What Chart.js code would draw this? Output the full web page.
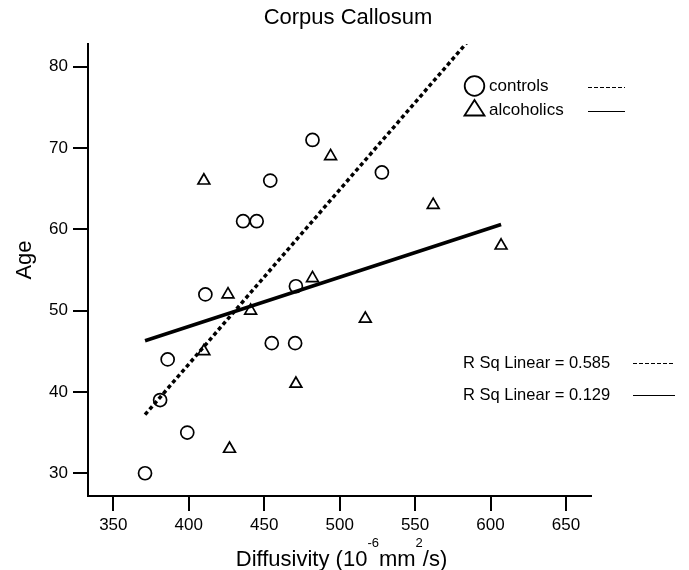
<!DOCTYPE html>
<html lang="en">
<head>
<meta charset="UTF-8">
<title>Corpus Callosum</title>
<script src="https://cdn.jsdelivr.net/npm/chart.js"></script>
<style>
    body { margin: 0; background: #fff; }
    #caixa { width: 689px; height: 570px; }
</style>
</head>
<body>
<div id="caixa"><canvas id="grafico"></canvas></div>

<script>
// controls (circles)
var controlsX = [371, 381, 386, 399, 411, 436, 445, 454, 455, 470.5, 471, 482, 528];
var controlsY = [30, 39, 44, 35, 52, 61, 61, 66, 46, 46, 53, 71, 67];

// alcoholics (triangles)
var alcoholicsX = [410, 494, 426, 441, 410, 427, 471, 482, 517, 562, 607];
var alcoholicsY = [66, 69, 52, 50, 45, 33, 41, 54, 49, 63, 58];

// fit lines (controls line runs out of the top of the plot)
var fitControlsX = [371, 584];
var fitControlsY = [37.2, 82.9];
var fitAlcoholicsX = [371, 607];
var fitAlcoholicsY = [46.3, 60.6];

var xTicks = [350, 400, 450, 500, 550, 600, 650];
var yTicks = [30, 40, 50, 60, 70, 80];
var rSquared = ['0.585', '0.129'];

var fonte = '"Liberation Sans", Arial, Helvetica, sans-serif';
Chart.defaults.font.family = fonte;
Chart.defaults.color = '#000';

function pares(xs, ys) {
    return xs.map(function (x, i) { return { x: x, y: ys[i] }; });
}

// title, axis titles and legends, drawn straight on the canvas
var legendaSpss = {
    id: 'legendaSpss',
    afterDraw: function (chart) {
        var ctx = chart.ctx;
        var area = chart.chartArea;
        ctx.save();
        ctx.strokeStyle = '#000';
        ctx.fillStyle = '#000';

        // title
        ctx.font = '22px ' + fonte;
        ctx.textAlign = 'center';
        ctx.textBaseline = 'middle';
        ctx.fillText('Corpus Callosum', 348, 18);

        // y axis title
        ctx.save();
        ctx.translate(25, 260);
        ctx.rotate(-Math.PI / 2);
        ctx.fillText('Age', 0, 0);
        ctx.restore();

        // marker legend
        ctx.lineWidth = 1.8;
        ctx.beginPath();
        ctx.arc(474.5, 86, 9.8, 0, Math.PI * 2);
        ctx.stroke();
        ctx.beginPath();
        ctx.moveTo(474.5, 100);
        ctx.lineTo(484.5, 115.5);
        ctx.lineTo(464.5, 115.5);
        ctx.closePath();
        ctx.stroke();

        ctx.font = '17px ' + fonte;
        ctx.textAlign = 'left';
        ctx.fillText('controls', 489, 86);
        ctx.fillText('alcoholics', 489, 110);

        ctx.lineWidth = 1;
        ctx.setLineDash([4, 2]);
        ctx.beginPath();
        ctx.moveTo(588, 87.5);
        ctx.lineTo(625, 87.5);
        ctx.stroke();
        ctx.setLineDash([]);
        ctx.beginPath();
        ctx.moveTo(588, 111.5);
        ctx.lineTo(625, 111.5);
        ctx.stroke();

        // R squared legend
        ctx.font = '16.5px ' + fonte;
        ctx.fillText('R Sq Linear = ' + rSquared[0], 463, 363);
        ctx.fillText('R Sq Linear = ' + rSquared[1], 463, 395);
        ctx.setLineDash([4, 2]);
        ctx.beginPath();
        ctx.moveTo(633, 363.5);
        ctx.lineTo(675, 363.5);
        ctx.stroke();
        ctx.setLineDash([]);
        ctx.beginPath();
        ctx.moveTo(633, 395.5);
        ctx.lineTo(675, 395.5);
        ctx.stroke();

        // x axis title: Diffusivity (10^-6 mm^2/s)
        var partes = [['Diffusivity (10', false], ['-6', true], ['mm', false], ['2', true], ['/s)', false]];
        var normal = '22px ' + fonte;
        var sup = '13px ' + fonte;
        var total = 0;
        partes.forEach(function (p) {
            ctx.font = p[1] ? sup : normal;
            total += ctx.measureText(p[0]).width;
        });
        var x = (area.left + area.right) / 2 + 2 - total / 2;
        ctx.textBaseline = 'alphabetic';
        partes.forEach(function (p) {
            ctx.font = p[1] ? sup : normal;
            ctx.fillText(p[0], x, p[1] ? 547 : 566);
            x += ctx.measureText(p[0]).width;
        });

        ctx.restore();
    }
};

var config = {
    type: 'scatter',
    data: {
        datasets: [
            {
                label: 'controls fit',
                type: 'line',
                data: pares(fitControlsX, fitControlsY),
                borderColor: '#000',
                borderWidth: 3.5,
                borderDash: [4, 3],
                pointRadius: 0,
                fill: false,
                tension: 0
            },
            {
                label: 'alcoholics fit',
                type: 'line',
                data: pares(fitAlcoholicsX, fitAlcoholicsY),
                borderColor: '#000',
                borderWidth: 3.5,
                pointRadius: 0,
                fill: false,
                tension: 0
            },
            {
                label: 'controls',
                data: pares(controlsX, controlsY),
                pointStyle: 'circle',
                pointRadius: 6.5,
                borderColor: '#000',
                borderWidth: 1.7,
                backgroundColor: 'rgba(0,0,0,0)'
            },
            {
                label: 'alcoholics',
                data: pares(alcoholicsX, alcoholicsY),
                pointStyle: 'triangle',
                pointRadius: 6.8,
                borderColor: '#000',
                borderWidth: 1.7,
                backgroundColor: 'rgba(0,0,0,0)'
            }
        ]
    },
    options: {
        responsive: true,
        maintainAspectRatio: false,
        animation: false,
        layout: { padding: { left: 0, right: 98, top: 44, bottom: 0 } },
        plugins: {
            legend: { display: false },
            tooltip: { enabled: false },
            title: { display: false }
        },
        scales: {
            x: {
                type: 'linear',
                min: 333.2,
                max: 666.6,
                afterBuildTicks: function (s) { s.ticks = xTicks.map(function (v) { return { value: v }; }); },
                afterFit: function (s) { s.height = 74; },
                grid: { drawOnChartArea: false, drawTicks: true, tickLength: 15, color: '#000', lineWidth: 2 },
                border: { display: true, color: '#000', width: 2 },
                ticks: { color: '#000', font: { size: 17 }, padding: 4, maxRotation: 0, autoSkip: false },
                title: { display: false }
            },
            y: {
                type: 'linear',
                min: 27.2,
                max: 82.8,
                afterBuildTicks: function (s) { s.ticks = yTicks.map(function (v) { return { value: v }; }); },
                afterFit: function (s) { s.width = 88; },
                grid: { drawOnChartArea: false, drawTicks: true, tickLength: 15, color: '#000', lineWidth: 2 },
                border: { display: true, color: '#000', width: 2 },
                ticks: { color: '#000', font: { size: 17 }, padding: 5, autoSkip: false },
                title: { display: false }
            }
        }
    },
    plugins: [legendaSpss]
};

var grafico = new Chart(document.getElementById('grafico'), config);
</script>
</body>
</html>
